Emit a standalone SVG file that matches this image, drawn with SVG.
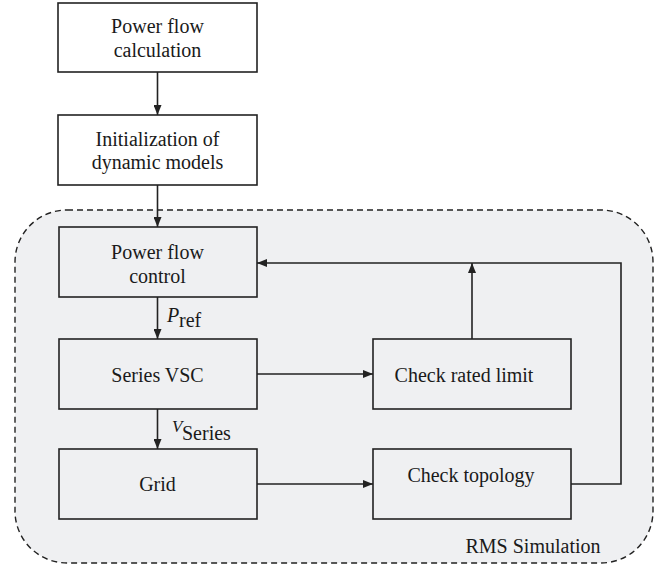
<svg xmlns="http://www.w3.org/2000/svg" width="658" height="568" viewBox="0 0 658 568">
  <style>
    .box { stroke: #222; stroke-width: 1.6; }
    .top { fill: #ffffff; }
    .inner { fill: #eff0f2; }
    .lbl { font-family: "Liberation Serif", "Times New Roman", serif; font-size: 20px; fill: #1a1a1a; text-anchor: middle; }
    .sym { font-family: "Liberation Serif", "Times New Roman", serif; fill: #1a1a1a; }
    .wire { fill: none; stroke: #222; stroke-width: 1.6; }
  </style>
  <defs>
    <marker id="arr" viewBox="0 0 10 8" refX="10" refY="4" markerWidth="10" markerHeight="8" markerUnits="userSpaceOnUse" orient="auto">
      <path d="M0,0 L10,4 L0,8 Z" fill="#222"/>
    </marker>
  </defs>

  <rect width="658" height="568" fill="#ffffff"/>

  <!-- RMS simulation region -->
  <g id="rms-region">
    <rect x="15" y="210" width="638" height="353" rx="52" ry="52" fill="#eff0f2" stroke="#222" stroke-width="1.4" stroke-dasharray="6,4"/>
    <text class="lbl" x="533" y="553">RMS Simulation</text>
  </g>

  <g id="power-flow-calc">
    <rect class="box top" x="58" y="3" width="199" height="69"/>
    <text class="lbl" x="157.5" y="33">Power flow</text>
    <text class="lbl" x="157.5" y="57">calculation</text>
  </g>

  <g id="init-dynamic">
    <rect class="box top" x="58" y="115" width="199" height="70"/>
    <text class="lbl" x="157.5" y="146">Initialization of</text>
    <text class="lbl" x="157.5" y="169">dynamic models</text>
  </g>

  <g id="pf-control">
    <rect class="box inner" x="59" y="227" width="198" height="70"/>
    <text class="lbl" x="157.5" y="259">Power flow</text>
    <text class="lbl" x="157.5" y="283">control</text>
  </g>

  <g id="series-vsc">
    <rect class="box inner" x="59" y="339" width="198" height="70"/>
    <text class="lbl" x="157.5" y="382">Series VSC</text>
  </g>

  <g id="grid">
    <rect class="box inner" x="59" y="449" width="198" height="70"/>
    <text class="lbl" x="157.5" y="491">Grid</text>
  </g>

  <g id="check-rated">
    <rect class="box inner" x="373" y="339" width="198" height="70"/>
    <text class="lbl" x="464" y="382">Check rated limit</text>
  </g>

  <g id="check-topology">
    <rect class="box inner" x="373" y="449" width="198" height="70"/>
    <text class="lbl" x="471" y="482">Check topology</text>
  </g>

  <g id="connectors">
    <line class="wire" x1="157.5" y1="72" x2="157.5" y2="115" marker-end="url(#arr)"/>
    <line class="wire" x1="157.5" y1="185" x2="157.5" y2="227" marker-end="url(#arr)"/>
    <line class="wire" x1="157.5" y1="297" x2="157.5" y2="339" marker-end="url(#arr)"/>
    <line class="wire" x1="157.5" y1="409" x2="157.5" y2="449" marker-end="url(#arr)"/>
    <line class="wire" x1="257" y1="374" x2="373" y2="374" marker-end="url(#arr)"/>
    <line class="wire" x1="257" y1="484" x2="373" y2="484" marker-end="url(#arr)"/>
    <line class="wire" x1="472" y1="339" x2="472" y2="263" marker-end="url(#arr)"/>
    <polyline class="wire" points="571,484 621,484 621,263 257,263" marker-end="url(#arr)"/>
  </g>

  <g id="signal-labels">
    <text class="sym" x="167" y="322" font-size="20" font-style="italic">P</text>
    <text class="sym" x="179" y="327" font-size="20">ref</text>
    <text class="sym" x="172" y="432" font-size="17" font-style="italic">V</text>
    <text class="sym" x="182" y="440" font-size="20">Series</text>
  </g>
</svg>
